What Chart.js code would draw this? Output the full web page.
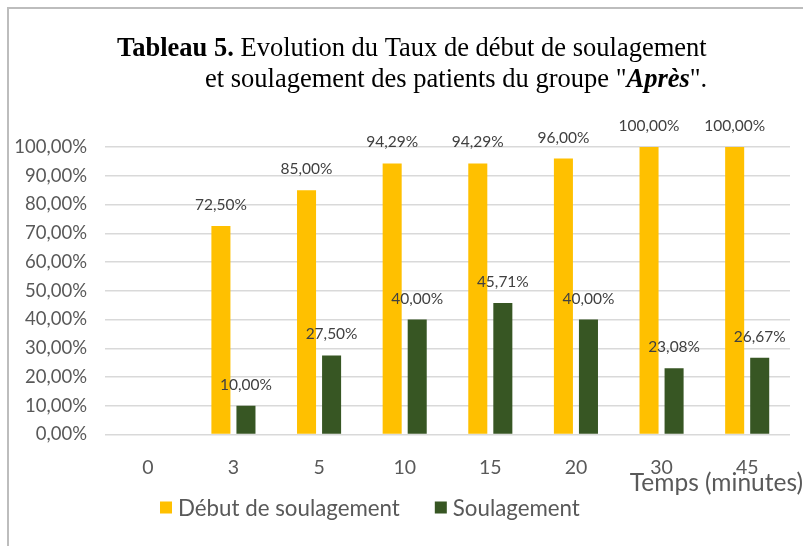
<!DOCTYPE html>
<html>
<head>
<meta charset="utf-8">
<script src="https://cdn.jsdelivr.net/npm/chart.js@4/dist/chart.umd.min.js"></script>
<style>
html,body{margin:0;padding:0;background:#fff;}
#wrap{position:relative;width:803px;height:546px;}
</style>
</head>
<body>
<div id="wrap"><canvas id="c" width="803" height="546"></canvas></div>
<script>
const categories = ['0', '3', '5', '10', '15', '20', '30', '45'];
const debutSoulagement = [null, 72.50, 85.00, 94.29, 94.29, 96.00, 100.00, 100.00];
const soulagement = [null, 10.00, 27.50, 40.00, 45.71, 40.00, 23.08, 26.67];
const seriesNames = ['Début de soulagement', 'Soulagement'];
const seriesColors = ['#FFC000', '#375623'];
const axisTitleX = 'Temps (minutes)';
const yTickMax = 100;
const yTickStep = 10;

const SANS = 'Lato, "Open Sans", sans-serif';
const SERIF = '"Liberation Serif", "Times New Roman", serif';
const fmt = v => v.toFixed(2).replace('.', ',') + '%';

const decor = {
  id: 'decor',
  beforeDraw(chart) {
    const ctx = chart.ctx;
    ctx.save();
    ctx.strokeStyle = '#bdbdbd';
    ctx.lineWidth = 2;
    ctx.beginPath();
    ctx.moveTo(8, chart.height);
    ctx.lineTo(8, 8);
    ctx.lineTo(chart.width, 8);
    ctx.stroke();
    ctx.restore();
  },
  afterDraw(chart) {
    const ctx = chart.ctx;
    ctx.save();
    // Title
    ctx.fillStyle = '#000';
    ctx.textBaseline = 'alphabetic';
    ctx.textAlign = 'left';
    const TS = '26.5px ';
    const runs1 = [['bold ' + TS + SERIF, 'Tableau 5.'], [TS + SERIF, ' Evolution du Taux de début de soulagement']];
    const runs2 = [[TS + SERIF, 'et soulagement des patients du groupe "'], ['italic bold ' + TS + SERIF, 'Après'], [TS + SERIF, '".']];
    const drawRuns = (runs, x, y) => {
      for (const [f, t] of runs) { ctx.font = f; ctx.fillText(t, x, y); x += ctx.measureText(t).width; }
    };
    drawRuns(runs1, 117, 56);
    drawRuns(runs2, 205, 87);
    // Data labels
    ctx.font = '15.5px ' + SANS;
    ctx.fillStyle = '#404040';
    ctx.textAlign = 'center';
    ctx.textBaseline = 'middle';
    chart.data.datasets.forEach((ds, i) => {
      const meta = chart.getDatasetMeta(i);
      meta.data.forEach((bar, j) => {
        const v = ds.data[j];
        if (v === null || v === undefined) return;
        ctx.fillText(fmt(v), bar.x, bar.y - 21);
      });
    });
    // X axis title
    ctx.font = '24.5px ' + SANS;
    ctx.fillStyle = '#595959';
    ctx.textAlign = 'right';
    ctx.fillText(axisTitleX, chart.width, chart.chartArea.bottom + 49);
    // Legend
    ctx.font = '22.3px ' + SANS;
    ctx.textAlign = 'left';
    let lx = 160;
    const ly = chart.chartArea.bottom + 73;
    chart.data.datasets.forEach(ds => {
      ctx.fillStyle = ds.backgroundColor;
      ctx.fillRect(lx, ly - 6, 12, 12);
      ctx.fillStyle = '#595959';
      ctx.fillText(ds.label, lx + 18, ly + 1);
      lx += 18 + ctx.measureText(ds.label).width + 35;
    });
    ctx.restore();
  }
};

new Chart(document.getElementById('c'), {
  type: 'bar',
  data: {
    labels: categories,
    datasets: [
      { label: seriesNames[0], data: debutSoulagement, backgroundColor: seriesColors[0], categoryPercentage: 0.585, barPercentage: 0.76 },
      { label: seriesNames[1], data: soulagement, backgroundColor: seriesColors[1], categoryPercentage: 0.585, barPercentage: 0.76 }
    ]
  },
  options: {
    responsive: false,
    animation: false,
    layout: { padding: { top: 147, left: 8, right: 13, bottom: 59 } },
    plugins: {
      legend: { display: false },
      title: { display: false },
      tooltip: { enabled: false }
    },
    scales: {
      x: {
        grid: { display: false, drawTicks: false },
        border: { display: false },
        ticks: { font: { family: SANS, size: 19.5 }, color: '#595959', padding: 22 },
        afterFit(scale) { scale.height = 52.5; }
      },
      y: {
        min: 0,
        max: yTickMax,
        ticks: { stepSize: yTickStep, font: { family: SANS, size: 18.5 }, color: '#595959', padding: 18, callback: v => fmt(v) },
        grid: { color: '#d9d9d9', lineWidth: 1.5, drawTicks: false },
        border: { display: false },
        afterFit(scale) { scale.width = 97; }
      }
    }
  },
  plugins: [decor]
});
</script>
</body>
</html>
